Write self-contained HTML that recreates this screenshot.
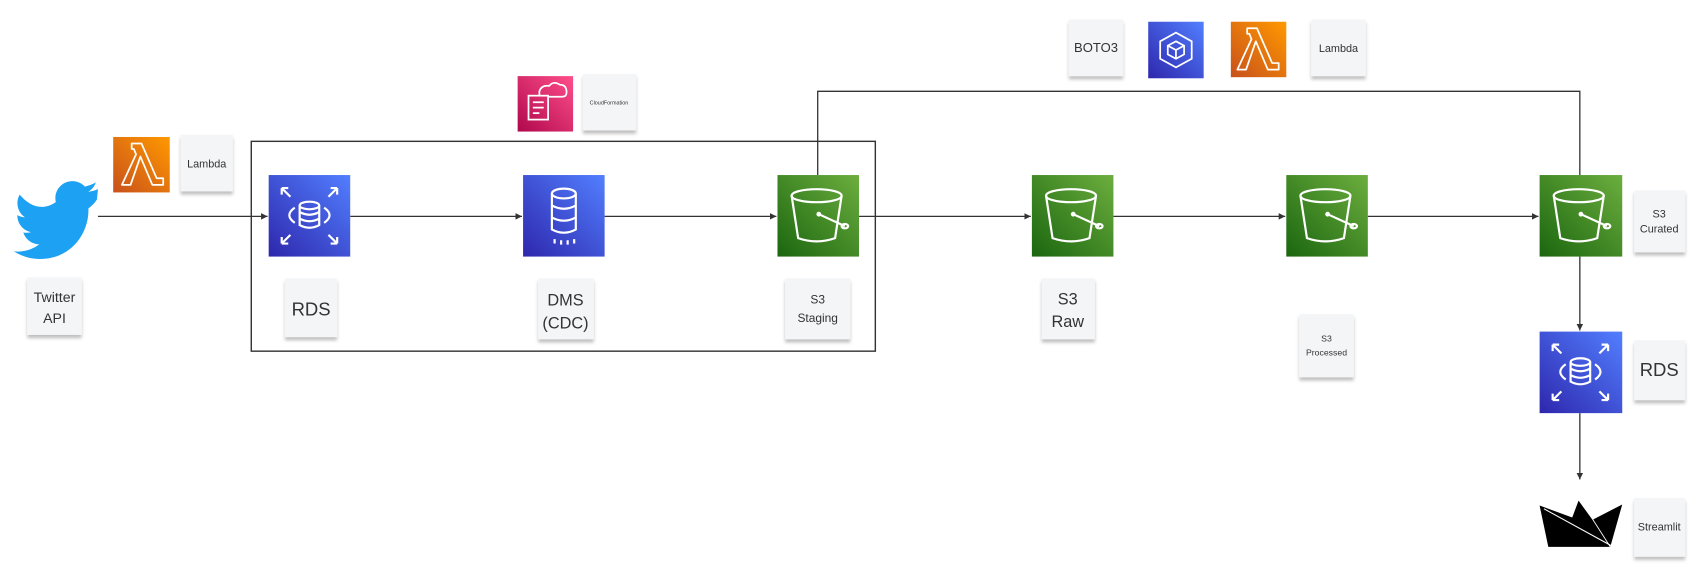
<!DOCTYPE html>
<html><head><meta charset="utf-8"><style>
html,body{margin:0;padding:0;background:#fff;width:1705px;height:586px;overflow:hidden}
text{font-family:"Liberation Sans",sans-serif;fill:#333}
</style></head><body>
<svg width="1705" height="586" viewBox="0 0 1568 539" xmlns="http://www.w3.org/2000/svg">
<defs>
<linearGradient id="gb" x1="0" y1="1" x2="1" y2="0"><stop offset="0" stop-color="#2e27ad"/><stop offset="1" stop-color="#527fff"/></linearGradient>
<linearGradient id="gg" x1="0" y1="1" x2="1" y2="0"><stop offset="0" stop-color="#1b660f"/><stop offset="1" stop-color="#6cae3e"/></linearGradient>
<linearGradient id="go" x1="0" y1="1" x2="1" y2="0"><stop offset="0" stop-color="#c8511b"/><stop offset="1" stop-color="#ff9900"/></linearGradient>
<linearGradient id="gp" x1="0" y1="1" x2="1" y2="0"><stop offset="0" stop-color="#b0084d"/><stop offset="1" stop-color="#ff4f8b"/></linearGradient>
<marker id="ar" markerWidth="6" markerHeight="6" refX="5" refY="3" orient="auto"><path d="M0,0.5 L5,3 L0,5.5z" fill="#333"/></marker>
<filter id="sh" x="-20%" y="-20%" width="140%" height="150%"><feDropShadow dx="0" dy="3" stdDeviation="1.5" flood-color="#000" flood-opacity="0.25"/></filter>
<g id="bucket"><g fill="none" stroke="#fff" stroke-width="2"><ellipse cx="36" cy="19" rx="23" ry="6"/><path d="M13 19 L19 58 Q36 64 53 58 L59 19"/><path d="M38 36 L62 47"/><ellipse cx="62" cy="47" rx="3" ry="2"/></g><circle cx="38" cy="36" r="2.2" fill="#fff"/></g>
<g id="rds"><g fill="none" stroke="#fff" stroke-width="2"><ellipse cx="37.5" cy="28" rx="9" ry="3.5"/><path d="M28.5 28 V46 Q37.5 51 46.5 46 V28 M28.5 34 Q37.5 39 46.5 34 M28.5 40 Q37.5 45 46.5 40"/><path d="M24 30 Q14 37 24 44 M51 30 Q61 37 51 44"/><path d="M12 12 L20 20 M12 12 V18 M12 12 H18 M63 12 L55 20 M63 12 V18 M63 12 H57 M12 63 L20 55 M12 63 V57 M12 63 H18 M63 63 L55 55 M63 63 V57 M63 63 H57"/></g></g>
<g id="lam"><path d="M17 8 H26 L40 40 H46 V46 H36 L25 20 L16 46 H8 L21 18 L19 13 H17 Z" fill="none" stroke="#fff" stroke-width="1.6" stroke-linejoin="round"/></g>
</defs>

<g stroke="#333" stroke-width="1.2" fill="none">
<line x1="90" y1="199" x2="246" y2="199" marker-end="url(#ar)"/>
<line x1="322" y1="199" x2="480" y2="199" marker-end="url(#ar)"/>
<line x1="556" y1="199" x2="714" y2="199" marker-end="url(#ar)"/>
<line x1="790" y1="199" x2="948" y2="199" marker-end="url(#ar)"/>
<line x1="1024" y1="199" x2="1182" y2="199" marker-end="url(#ar)"/>
<line x1="1258" y1="199" x2="1415" y2="199" marker-end="url(#ar)"/>
<polyline points="752,161 752,84 1453,84 1453,161"/>
<line x1="1453" y1="236" x2="1453" y2="304" marker-end="url(#ar)"/>
<line x1="1453" y1="380" x2="1453" y2="441" marker-end="url(#ar)"/>
<rect x="231" y="130" width="574" height="193" stroke-width="1.3"/>
</g>

<path fill="#1da1f2" d="M90 174 c-3 1.4 -6 2 -9 2.5 c3.3 -2 5.8 -5 7 -8.7 c-3 1.8 -6.4 3 -10 3.8 c-2.9 -3 -7 -5 -11.5 -5 c-8.7 0 -15.7 7 -15.7 15.7 c0 1.2 0.1 2.4 0.4 3.6 C38 195 26 188.6 18 179 c-1.4 2.3 -2.1 5 -2.1 7.9 c0 5.4 2.8 10.2 7 13 c-2.6 -0.1 -5 -0.8 -7.1 -2 v0.2 c0 7.6 5.4 14 12.6 15.4 c-1.3 0.4 -2.7 0.6 -4.1 0.6 c-1 0 -2 -0.1 -3 -0.3 c2 6.2 7.8 10.8 14.7 10.9 c-5.4 4.2 -12.2 6.7 -19.5 6.7 c-1.3 0 -2.5 -0.1 -3.8 -0.2 c7 4.5 15.2 7 24 7 c28.8 0 44.5 -23.8 44.5 -44.5 l0 -2 c3 -2.2 5.7 -5 7.8 -8.1z"/>

<rect x="104" y="126" width="52" height="51" fill="url(#go)"/><use href="#lam" x="104" y="124"/>
<rect x="247" y="161" width="75" height="75" fill="url(#gb)"/><use href="#rds" x="247" y="161"/>
<rect x="481" y="161" width="75" height="75" fill="url(#gb)"/>
<g transform="translate(481,161)" fill="none" stroke="#fff" stroke-width="2"><ellipse cx="37.5" cy="17" rx="11" ry="4.5"/><path d="M26.5 17 V50 Q37.5 56 48.5 50 V17 M26.5 28 Q37.5 34 48.5 28 M26.5 39 Q37.5 45 48.5 39 M29 59 v4 M35 60 v4 M41 60 v4 M47 59 v4"/></g>
<rect x="715" y="161" width="75" height="75" fill="url(#gg)"/><use href="#bucket" x="715" y="161"/>
<rect x="949" y="161" width="75" height="75" fill="url(#gg)"/><use href="#bucket" x="949" y="161"/>
<rect x="1183" y="161" width="75" height="75" fill="url(#gg)"/><use href="#bucket" x="1183" y="161"/>
<rect x="1416" y="161" width="76" height="75" fill="url(#gg)"/><use href="#bucket" x="1416" y="161"/>
<rect x="1416" y="305" width="76" height="75" fill="url(#gb)"/><use href="#rds" x="1416" y="305"/>
<rect x="476" y="70" width="51" height="51" fill="url(#gp)"/>
<g transform="translate(476,70)" fill="none" stroke="#fff" stroke-width="1.6"><rect x="10" y="18" width="18" height="22"/><path d="M14 24 h10 M14 29 h10 M14 34 h6 M20 18 v-4 q2 -6 9 -5 q4 -5 10 -1 q6 0 6 7 q0 4 -4 4 h-13"/></g>
<rect x="1056" y="20" width="51" height="52" fill="url(#gb)"/>
<g transform="translate(1056,20)" fill="none" stroke="#fff" stroke-width="1.6"><path d="M25.5 10 L40 18 V34 L25.5 42 L11 34 V18 Z"/><path d="M25.5 18 L33 22 V30 L25.5 34 L18 30 V22 Z M18 22 L25.5 26 L33 22 M25.5 26 V34"/></g>
<rect x="1132" y="20" width="51" height="51" fill="url(#go)"/><use href="#lam" x="1130" y="18"/>
<path fill="#000" d="M1416 465 L1446 476 L1452 460 L1465 478 L1492 464 L1481 503 L1424 503 Z"/>
<path d="M1420 468 L1482 502" stroke="#fff" stroke-width="1"/>
<path d="M1452 460 L1465 478 L1481 503" stroke="#fff" stroke-width="0.8" fill="none"/>

<g filter="url(#sh)" fill="#f4f5f7">
<rect x="25" y="255" width="50" height="53"/>
<rect x="166" y="124" width="48" height="52"/>
<rect x="262" y="256" width="48" height="54"/>
<rect x="495" y="256" width="51" height="56"/>
<rect x="722" y="256" width="60" height="56"/>
<rect x="958" y="256" width="49" height="56"/>
<rect x="1195" y="289" width="50" height="58"/>
<rect x="1503" y="175" width="47" height="57"/>
<rect x="1503" y="313" width="47" height="55"/>
<rect x="1503" y="458" width="47" height="54"/>
<rect x="536" y="68" width="49" height="52"/>
<rect x="983" y="18" width="50" height="52"/>
<rect x="1206" y="18" width="50" height="52"/>
</g>
<g text-anchor="middle">
<text x="50" y="278" font-size="13">Twitter</text><text x="50" y="297" font-size="13">API</text>
<text x="190" y="154" font-size="10">Lambda</text>
<text x="286" y="290" font-size="17">RDS</text>
<text x="520" y="281" font-size="15">DMS</text><text x="520" y="302" font-size="15">(CDC)</text>
<text x="752" y="279" font-size="11">S3</text><text x="752" y="296" font-size="11">Staging</text>
<text x="982" y="280" font-size="15">S3</text><text x="982" y="301" font-size="15">Raw</text>
<text x="1220" y="314" font-size="8">S3</text><text x="1220" y="327" font-size="8">Processed</text>
<text x="1526" y="200" font-size="10">S3</text><text x="1526" y="214" font-size="10">Curated</text>
<text x="1526" y="346" font-size="17">RDS</text>
<text x="1526" y="488" font-size="10">Streamlit</text>
<text x="560" y="96" font-size="5">CloudFormation</text>
<text x="1008" y="48" font-size="12">BOTO3</text>
<text x="1231" y="48" font-size="10">Lambda</text>
</g>
</svg>
</body></html>
